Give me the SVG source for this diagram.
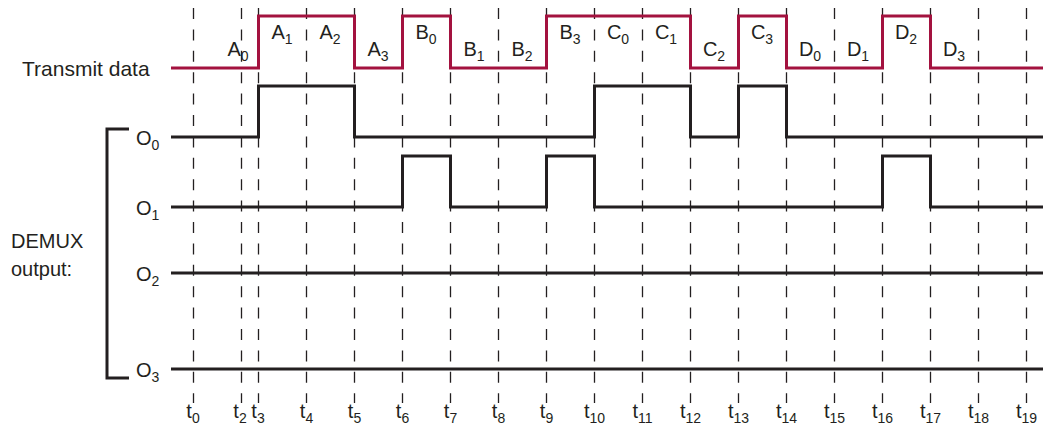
<svg xmlns="http://www.w3.org/2000/svg" width="1047" height="428" viewBox="0 0 1047 428">
<style>
.bg{fill:#ffffff}
.dash{stroke:#231f20;stroke-width:1.3;stroke-dasharray:11 10.4;fill:none}
.sig{stroke:#231f20;stroke-width:3;fill:none}
.tx{stroke:#a3123f;stroke-width:3;fill:none}
text{font-family:"Liberation Sans",Arial,sans-serif;fill:#231f20;font-size:20px}
.c{text-anchor:middle}
.sub{font-size:14px}
.big{font-size:21px}
</style>
<rect class="bg" x="0" y="0" width="1047" height="428"/>
<g id="gridlines">
<line class="dash" x1="193.5" y1="8" x2="193.5" y2="403"/>
<line class="dash" x1="241.5" y1="8" x2="241.5" y2="403"/>
<line class="dash" x1="258.5" y1="8" x2="258.5" y2="403"/>
<line class="dash" x1="306.5" y1="8" x2="306.5" y2="403"/>
<line class="dash" x1="354.5" y1="8" x2="354.5" y2="403"/>
<line class="dash" x1="402.5" y1="8" x2="402.5" y2="403"/>
<line class="dash" x1="450.5" y1="8" x2="450.5" y2="403"/>
<line class="dash" x1="498.5" y1="8" x2="498.5" y2="403"/>
<line class="dash" x1="546.5" y1="8" x2="546.5" y2="403"/>
<line class="dash" x1="594.5" y1="8" x2="594.5" y2="403"/>
<line class="dash" x1="642.5" y1="8" x2="642.5" y2="403"/>
<line class="dash" x1="690.5" y1="8" x2="690.5" y2="403"/>
<line class="dash" x1="738.5" y1="8" x2="738.5" y2="403"/>
<line class="dash" x1="786.5" y1="8" x2="786.5" y2="403"/>
<line class="dash" x1="834.5" y1="8" x2="834.5" y2="403"/>
<line class="dash" x1="882.5" y1="8" x2="882.5" y2="403"/>
<line class="dash" x1="930.5" y1="8" x2="930.5" y2="403"/>
<line class="dash" x1="978.5" y1="8" x2="978.5" y2="403"/>
<line class="dash" x1="1026.5" y1="8" x2="1026.5" y2="403"/>
</g>
<g id="connectors">
<path id="transmit" class="tx" d="M171,68 H258.5 V16 H354.5 V68 H402.5 V16 H450.5 V68 H546.5 V16 H690.5 V68 H738.5 V16 H786.5 V68 H882.5 V16 H930.5 V68 H1043"/>
<path id="o0" class="sig" d="M171,137 H258.5 V86 H354.5 V137 H594.5 V86 H690.5 V137 H738.5 V86 H786.5 V137 H1043"/>
<path id="o1" class="sig" d="M171,207 H402.5 V156 H450.5 V207 H546.5 V156 H594.5 V207 H882.5 V156 H930.5 V207 H1043"/>
<path id="o2" class="sig" d="M171,273 H1043"/>
<path id="o3" class="sig" d="M171,369 H1043"/>
<path id="bracket" class="sig" d="M129,129 H107 V378 H129"/>
</g>
<g id="labels-left">
<text class="big" x="22" y="76">Transmit data</text>
<text x="11" y="248">DEMUX</text>
<text x="11" y="276">output:</text>
</g>
<g id="labels-o">
<text x="136" y="145">O<tspan class="sub" dy="5">0</tspan></text>
<text x="136" y="215">O<tspan class="sub" dy="5">1</tspan></text>
<text x="136" y="281">O<tspan class="sub" dy="5">2</tspan></text>
<text x="136" y="377">O<tspan class="sub" dy="5">3</tspan></text>
</g>
<g id="labels-data">
<text class="c" x="238" y="56">A<tspan class="sub" dy="5">0</tspan></text>
<text class="c" x="282" y="39">A<tspan class="sub" dy="5">1</tspan></text>
<text class="c" x="330" y="39">A<tspan class="sub" dy="5">2</tspan></text>
<text class="c" x="378" y="56">A<tspan class="sub" dy="5">3</tspan></text>
<text class="c" x="426" y="39">B<tspan class="sub" dy="5">0</tspan></text>
<text class="c" x="474" y="56">B<tspan class="sub" dy="5">1</tspan></text>
<text class="c" x="522" y="56">B<tspan class="sub" dy="5">2</tspan></text>
<text class="c" x="570" y="39">B<tspan class="sub" dy="5">3</tspan></text>
<text class="c" x="618" y="39">C<tspan class="sub" dy="5">0</tspan></text>
<text class="c" x="666" y="39">C<tspan class="sub" dy="5">1</tspan></text>
<text class="c" x="714" y="56">C<tspan class="sub" dy="5">2</tspan></text>
<text class="c" x="762" y="39">C<tspan class="sub" dy="5">3</tspan></text>
<text class="c" x="810" y="56">D<tspan class="sub" dy="5">0</tspan></text>
<text class="c" x="858" y="56">D<tspan class="sub" dy="5">1</tspan></text>
<text class="c" x="906" y="39">D<tspan class="sub" dy="5">2</tspan></text>
<text class="c" x="954" y="56">D<tspan class="sub" dy="5">3</tspan></text>
</g>
<g id="labels-time">
<text class="c" x="193" y="418">t<tspan class="sub" dy="5">0</tspan></text>
<text class="c" x="240" y="418">t<tspan class="sub" dy="5">2</tspan></text>
<text class="c" x="258" y="418">t<tspan class="sub" dy="5">3</tspan></text>
<text class="c" x="306.5" y="418">t<tspan class="sub" dy="5">4</tspan></text>
<text class="c" x="354.5" y="418">t<tspan class="sub" dy="5">5</tspan></text>
<text class="c" x="402.5" y="418">t<tspan class="sub" dy="5">6</tspan></text>
<text class="c" x="450.5" y="418">t<tspan class="sub" dy="5">7</tspan></text>
<text class="c" x="498.5" y="418">t<tspan class="sub" dy="5">8</tspan></text>
<text class="c" x="546.5" y="418">t<tspan class="sub" dy="5">9</tspan></text>
<text class="c" x="594.5" y="418">t<tspan class="sub" dy="5">10</tspan></text>
<text class="c" x="642.5" y="418">t<tspan class="sub" dy="5">11</tspan></text>
<text class="c" x="690.5" y="418">t<tspan class="sub" dy="5">12</tspan></text>
<text class="c" x="738.5" y="418">t<tspan class="sub" dy="5">13</tspan></text>
<text class="c" x="786.5" y="418">t<tspan class="sub" dy="5">14</tspan></text>
<text class="c" x="834.5" y="418">t<tspan class="sub" dy="5">15</tspan></text>
<text class="c" x="882.5" y="418">t<tspan class="sub" dy="5">16</tspan></text>
<text class="c" x="930.5" y="418">t<tspan class="sub" dy="5">17</tspan></text>
<text class="c" x="978.5" y="418">t<tspan class="sub" dy="5">18</tspan></text>
<text class="c" x="1026.5" y="418">t<tspan class="sub" dy="5">19</tspan></text>
</g>
</svg>
